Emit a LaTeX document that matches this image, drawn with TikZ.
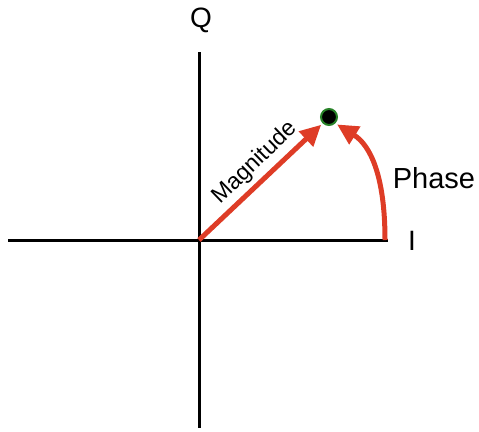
\documentclass[tikz,border=0pt]{standalone}
\usepackage{fontspec}
\setmainfont{Liberation Sans}
\usetikzlibrary{arrows.meta}
\definecolor{arrowred}{RGB}{222,60,38}
\definecolor{dotgreen}{RGB}{40,130,40}
\tikzset{
  axis/.style={line width=3pt, black},
  redarrow/.style={line width=5pt, arrowred, -{Triangle[length=21pt,width=20pt]}},
  lbl/.style={inner sep=0pt, text=black}
}
\begin{document}
\begin{tikzpicture}[x=1pt,y=-1pt]
\useasboundingbox (0,0) rectangle (479,431);
\coordinate (O) at (199,240);
\coordinate (top) at (199,52);
\coordinate (bot) at (199,428);
\coordinate (left) at (8,240);
\coordinate (right) at (388,240);
\coordinate (arcstart) at (385,240);
\draw[axis] (top) -- (bot);
\draw[axis] (left) -- (right);
\node[circle, fill=black, draw=dotgreen, line width=2pt, minimum size=16pt, inner sep=0pt] (dot) at (329,117) {};
\draw[redarrow, shorten >=2pt] (O) -- (dot.225);
\draw[redarrow, shorten >=2pt] (arcstart) .. controls (385,175) and (370,145) .. (dot.-45);
\node[lbl, font=\fontsize{28}{30}\selectfont] (Q) at (201,20) {Q};
\node[lbl, font=\fontsize{28}{30}\selectfont] (I) at (412,241) {I};
\node[lbl, font=\fontsize{29}{32}\selectfont] (P) at (434,178) {Phase};
\node[lbl, font=\fontsize{23}{26}\selectfont, rotate=44] (M) at (255,163) {Magnitude};
\end{tikzpicture}
\end{document}
